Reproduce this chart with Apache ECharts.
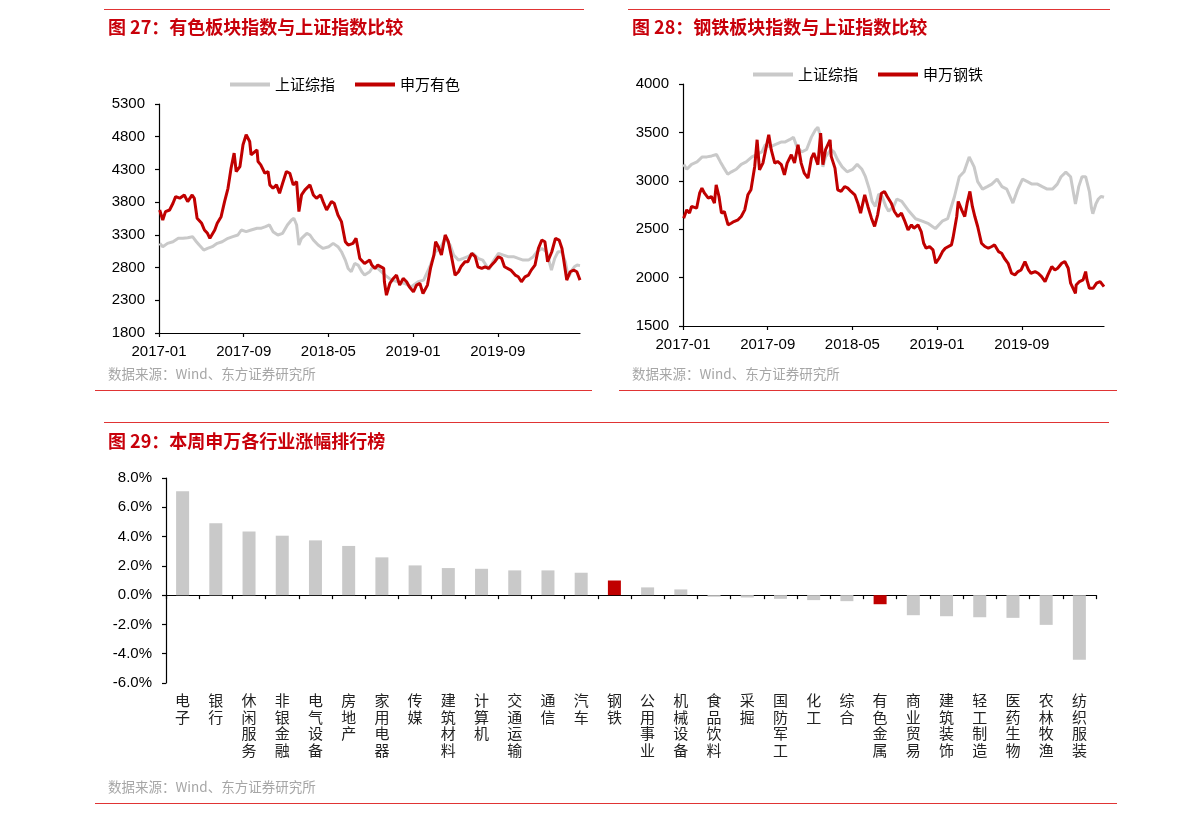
<!DOCTYPE html>
<html>
<head>
<meta charset="utf-8">
<script src="https://cdn.jsdelivr.net/npm/echarts@6/dist/echarts.min.js"></script>
<style>
  html, body { margin: 0; padding: 0; background: #fff; }
  #chart { width: 1191px; height: 817px; }
</style>
</head>
<body>
<div id="chart"></div>
<script>
// 上证综指 (shared by fig 27 and fig 28)
const shDates = ['2017-01-03','2017-01-12','2017-01-26','2017-02-10','2017-02-24','2017-03-09','2017-03-23','2017-04-06','2017-04-17','2017-04-25',
  '2017-05-08','2017-05-19','2017-06-02','2017-06-16','2017-06-30','2017-07-17','2017-07-31','2017-08-15','2017-08-25','2017-09-08',
  '2017-09-22','2017-10-09','2017-10-20','2017-11-03','2017-11-14','2017-11-24','2017-12-08','2017-12-22','2018-01-05','2018-01-17',
  '2018-01-24','2018-02-01','2018-02-07','2018-02-14','2018-02-28','2018-03-09','2018-03-19','2018-04-02','2018-04-16','2018-05-02',
  '2018-05-15','2018-05-29','2018-06-08','2018-06-19','2018-06-27','2018-07-06','2018-07-16','2018-07-26','2018-08-06','2018-08-14',
  '2018-08-29','2018-09-07','2018-09-21','2018-10-12','2018-10-31','2018-11-19','2018-12-07','2018-12-27','2019-01-16','2019-02-01',
  '2019-02-19','2019-03-04','2019-03-18','2019-04-02','2019-04-16','2019-04-26','2019-05-10','2019-05-24','2019-06-06','2019-06-21',
  '2019-07-05','2019-07-19','2019-08-06','2019-08-19','2019-09-03','2019-09-17','2019-09-30','2019-10-16','2019-10-30','2019-11-13',
  '2019-11-28','2019-12-12','2019-12-23','2020-01-06','2020-01-20','2020-02-03','2020-02-12','2020-02-21','2020-03-02','2020-03-06',
  '2020-03-13','2020-03-19','2020-03-23','2020-04-01','2020-04-08','2020-04-16','2020-04-24'];
const shValues = [3170,3119,3170,3195,3247,3247,3257,3272,3195,3144,
  3068,3093,3119,3170,3195,3247,3272,3298,3374,3349,
  3374,3400,3400,3425,3451,3349,3298,3323,3451,3527,
  3553,3451,3144,3247,3323,3298,3221,3144,3093,3119,
  3170,3119,3042,2914,2787,2736,2863,2838,2736,2685,
  2736,2812,2787,2685,2608,2583,2557,2506,2583,2608,
  2838,3042,3093,3247,3144,2991,2914,2940,2966,3017,
  2940,2914,2770,2900,3017,2991,2966,2966,2940,2914,
  2914,2966,3042,3090,3042,2760,2940,3042,3042,3060,
  2889,2720,2660,2761,2812,2838,2830];

// 申万有色
const ysDates = ['2017-01-03','2017-01-12','2017-01-20','2017-02-01','2017-02-10','2017-02-17','2017-02-28','2017-03-13','2017-03-23','2017-04-05',
  '2017-04-11','2017-04-19','2017-05-02','2017-05-10','2017-05-19','2017-05-26','2017-06-09','2017-06-16','2017-06-27','2017-07-07',
  '2017-07-17','2017-07-26','2017-08-04','2017-08-10','2017-08-21','2017-08-30','2017-09-08','2017-09-18','2017-09-22','2017-10-09',
  '2017-10-12','2017-10-20','2017-11-01','2017-11-10','2017-11-15','2017-11-24','2017-12-04','2017-12-13','2017-12-22','2018-01-02',
  '2018-01-12','2018-01-22','2018-02-01','2018-02-07','2018-02-14','2018-02-23','2018-03-09','2018-03-19','2018-03-28','2018-04-09',
  '2018-04-16','2018-04-26','2018-05-10','2018-05-18','2018-05-29','2018-06-08','2018-06-19','2018-06-27','2018-07-11','2018-07-20',
  '2018-07-31','2018-08-14','2018-08-29','2018-09-04','2018-09-13','2018-09-21','2018-10-08','2018-10-10','2018-10-16','2018-10-26',
  '2018-11-05','2018-11-14','2018-11-23','2018-12-03','2018-12-13','2018-12-21','2019-01-02','2019-01-11','2019-01-21','2019-01-30',
  '2019-02-11','2019-02-19','2019-02-28','2019-03-05','2019-03-13','2019-03-22','2019-04-02','2019-04-11','2019-04-19','2019-04-30',
  '2019-05-10','2019-05-17','2019-05-29','2019-06-06','2019-06-17','2019-06-27','2019-07-05','2019-07-16','2019-07-26','2019-08-05',
  '2019-08-14','2019-08-23','2019-09-03','2019-09-12','2019-09-20','2019-10-08','2019-10-11','2019-10-21','2019-10-30','2019-11-08',
  '2019-11-18','2019-11-28','2019-12-06','2019-12-17','2019-12-27','2020-01-06','2020-01-15','2020-01-23','2020-02-04','2020-02-14',
  '2020-02-24','2020-03-03','2020-03-06','2020-03-17','2020-03-27','2020-04-06','2020-04-15','2020-04-24'];
const ysValues = [3680,3527,3655,3680,3783,3885,3860,3910,3808,3910,
  3860,3553,3476,3374,3323,3247,3374,3476,3578,3808,
  4012,4319,4549,4268,4344,4677,4830,4727,4523,4600,
  4421,4370,4242,4268,4064,4012,4064,3936,4089,4268,
  4242,4064,4115,3655,3910,3987,4064,3910,3860,3910,
  3808,3680,3808,3783,3604,3502,3195,3144,3170,3247,
  2940,2863,2914,2838,2787,2838,2787,2583,2378,2557,
  2634,2685,2532,2634,2583,2506,2429,2532,2557,2404,
  2532,2787,2991,3195,3119,2991,3298,3195,2991,2685,
  2736,2812,2889,2889,3017,2966,2812,2787,2812,2787,
  2838,2889,2966,2940,2812,2761,2736,2685,2659,2583,
  2659,2685,2761,2838,3093,3221,3195,2889,3042,3247,
  3221,3093,2991,2608,2736,2761,2736,2608];

// 申万钢铁
const gtDates = ['2017-01-03','2017-01-12','2017-01-20','2017-01-26','2017-02-09','2017-02-17','2017-02-23','2017-03-02','2017-03-13','2017-03-22',
  '2017-03-31','2017-04-05','2017-04-13','2017-04-20','2017-04-28','2017-05-09','2017-05-18','2017-05-26','2017-06-07','2017-06-16',
  '2017-06-26','2017-07-05','2017-07-14','2017-07-25','2017-08-01','2017-08-08','2017-08-18','2017-08-28','2017-09-04','2017-09-11',
  '2017-09-21','2017-09-29','2017-10-10','2017-10-19','2017-10-27','2017-11-08','2017-11-17','2017-11-27','2017-12-06','2017-12-15',
  '2017-12-26','2018-01-05','2018-01-12','2018-01-24','2018-02-01','2018-02-07','2018-02-14','2018-02-26','2018-03-01','2018-03-12',
  '2018-03-20','2018-03-30','2018-04-09','2018-04-18','2018-04-27','2018-05-08','2018-05-17','2018-05-25','2018-06-06','2018-06-15',
  '2018-06-25','2018-07-04','2018-07-13','2018-07-24','2018-08-02','2018-08-10','2018-08-22','2018-08-31','2018-09-10','2018-09-20',
  '2018-09-28','2018-10-09','2018-10-19','2018-10-26','2018-11-07','2018-11-16','2018-11-23','2018-11-30','2018-12-10','2018-12-20',
  '2018-12-28','2019-01-07','2019-01-17','2019-01-25','2019-02-11','2019-02-15','2019-02-25','2019-03-01','2019-03-11','2019-03-20',
  '2019-03-27','2019-04-04','2019-04-11','2019-04-18','2019-04-26','2019-05-07','2019-05-17','2019-05-27','2019-06-06','2019-06-14',
  '2019-06-25','2019-07-04','2019-07-12','2019-07-23','2019-08-02','2019-08-12','2019-08-21','2019-08-30','2019-09-10','2019-09-20',
  '2019-09-27','2019-10-09','2019-10-18','2019-10-28','2019-11-07','2019-11-15','2019-11-26','2019-12-05','2019-12-13','2019-12-25',
  '2020-01-03','2020-01-13','2020-01-20','2020-02-03','2020-02-05','2020-02-14','2020-02-24','2020-03-02','2020-03-06','2020-03-13',
  '2020-03-24','2020-04-03','2020-04-13','2020-04-24'];
const gtValues = [2614,2700,2666,2735,2717,2872,2924,2872,2821,2838,
  2769,2959,2838,2666,2683,2545,2562,2579,2597,2631,
  2700,2855,2907,3148,3424,3114,3183,3355,3476,3321,
  3183,3200,3166,3062,3183,3269,3183,3373,3183,3079,
  3028,3235,3286,3166,3493,3166,3321,3424,3252,3131,
  2907,2890,2941,2924,2890,2855,2769,2666,2855,2735,
  2614,2528,2648,2872,2890,2838,2769,2683,2631,2666,
  2597,2493,2545,2510,2545,2476,2355,2303,2321,2286,
  2148,2200,2269,2303,2338,2407,2631,2786,2700,2631,
  2769,2890,2735,2631,2528,2355,2321,2303,2321,2338,
  2269,2252,2200,2148,2045,2028,2062,2079,2166,2079,
  2045,2062,2045,2010,1959,2028,2114,2079,2097,2148,
  2166,2097,1942,1838,1924,1959,1976,2062,1976,1890,
  1890,1942,1959,1907];

// 图 29
const industries = ['电子','银行','休闲服务','非银金融','电气设备','房地产','家用电器','传媒','建筑材料','计算机',
  '交通运输','通信','汽车','钢铁','公用事业','机械设备','食品饮料','采掘','国防军工','化工',
  '综合','有色金属','商业贸易','建筑装饰','轻工制造','医药生物','农林牧渔','纺织服装'];
const weeklyChange = [7.10,4.91,4.34,4.06,3.74,3.36,2.58,2.03,1.85,1.80,
  1.69,1.69,1.53,1.00,0.53,0.39,-0.11,-0.16,-0.25,-0.34,
  -0.41,-0.62,-1.37,-1.44,-1.51,-1.55,-2.03,-4.41];
const highlighted = ['钢铁','有色金属'];
const pctTicks = { min: -6, max: 8, step: 2 };

const RED = '#c00000', GREY = '#c9c9c9', RULE = '#e03434';
const NUM_FONT = '"Liberation Sans", "Noto Sans CJK SC", sans-serif';
const CJK_FONT = '"Noto Sans CJK SC", "Liberation Sans", sans-serif';

// x of the two line charts = months since 2017-01
const monthsOf = (s) => {
  const [y, m, d] = s.split('-').map(Number);
  const dim = new Date(y, m, 0).getDate();
  return (y - 2017) * 12 + (m - 1) + (d - 1) / dim;
};
const monthLabel = (v) => {
  const y = 2017 + Math.floor(Math.round(v) / 12);
  const m = Math.round(v) % 12 + 1;
  return y + '-' + (m < 10 ? '0' + m : m);
};
const pairs = (dates, vals) => dates.map((d, i) => [monthsOf(d), vals[i]]);
const endMonth = monthsOf('2020-04-24');

const axisLine = { show: true, lineStyle: { color: '#000', width: 1.2 } };
const axisTick = { show: true, inside: false, length: 4, lineStyle: { color: '#000', width: 1.2 } };
const numLabel = { color: '#000', fontSize: 15, fontFamily: NUM_FONT };

const timeX = (gridIndex) => ({
  type: 'value', gridIndex, min: 0, max: endMonth, interval: 8,
  axisLine, axisTick, splitLine: { show: false },
  axisLabel: Object.assign({ margin: 11, formatter: monthLabel, showMaxLabel: false }, numLabel),
});
const indexY = (gridIndex, min, max) => ({
  type: 'value', gridIndex, min, max, interval: 500,
  axisLine, axisTick, splitLine: { show: false },
  axisLabel: Object.assign({ margin: 14, formatter: (v) => String(v) }, numLabel),
});
const lineSeries = (name, data, color, idx) => ({
  name, type: 'line', xAxisIndex: idx, yAxisIndex: idx, data,
  showSymbol: false, symbol: 'none', lineStyle: { color, width: 3 }, itemStyle: { color },
  z: color === RED ? 3 : 2, silent: true,
});

const text = (x, y, str, style) => ({
  type: 'text', x, y, silent: true,
  style: Object.assign({ text: str, verticalAlign: 'middle', align: 'left' }, style),
});
const rule = (x1, x2, y) => ({
  type: 'line', silent: true, shape: { x1, y1: y, x2, y2: y },
  style: { stroke: RULE, lineWidth: 1.2 },
});
const titleStyle = { fill: '#c8000a', font: 'bold 18px ' + CJK_FONT };
const srcStyle = { fill: '#a6a6a6', font: '13.5px ' + CJK_FONT };

const gridBox = (left, top, width, height) => ({ left, top, width, height, containLabel: false, outerBoundsMode: 'none' });
const legendFor = (names, left, top) => ({
  data: names, left, top, icon: 'rect', itemWidth: 40, itemHeight: 4, itemGap: 20,
  textStyle: { fontSize: 15, color: '#000', fontFamily: CJK_FONT },
});

const chart = echarts.init(document.getElementById('chart'), null, { renderer: 'canvas' });
chart.setOption({
  animation: false,
  backgroundColor: '#fff',
  grid: [
    gridBox(159, 104, 421, 229),
    gridBox(683, 84, 421, 242),
    gridBox(166, 478, 930, 205),
  ],
  legend: [
    legendFor(['上证综指', '申万有色'], 225, 72),
    legendFor(['上证综指', '申万钢铁'], 748, 62),
  ],
  xAxis: [
    timeX(0),
    timeX(1),
    { type: 'category', gridIndex: 2, data: industries, boundaryGap: true,
      axisLine: Object.assign({ onZero: true }, axisLine),
      axisTick: Object.assign({ alignWithLabel: false, interval: 0 }, axisTick),
      axisLabel: { interval: 0, margin: 9, color: '#222', fontSize: 15, lineHeight: 16.7, fontFamily: CJK_FONT,
        formatter: (v) => v.split('').join('\n') } },
  ],
  yAxis: [
    indexY(0, 1800, 5300),
    indexY(1, 1500, 4000),
    { type: 'value', gridIndex: 2, min: pctTicks.min, max: pctTicks.max, interval: pctTicks.step,
      axisLine, axisTick, splitLine: { show: false },
      axisLabel: Object.assign({ margin: 14, formatter: (v) => v.toFixed(1) + '%' }, numLabel) },
  ],
  series: [
    lineSeries('上证综指', pairs(shDates, shValues), GREY, 0),
    lineSeries('申万有色', pairs(ysDates, ysValues), RED, 0),
    lineSeries('上证综指', pairs(shDates, shValues), GREY, 1),
    lineSeries('申万钢铁', pairs(gtDates, gtValues), RED, 1),
    { name: '涨幅', type: 'bar', xAxisIndex: 2, yAxisIndex: 2, barWidth: 13, silent: true,
      data: weeklyChange.map((v, i) => ({
        value: v, itemStyle: { color: highlighted.includes(industries[i]) ? RED : GREY },
      })) },
  ],
  graphic: [
    rule(104, 584, 9.5), rule(628, 1110, 9.5),
    rule(95, 592, 390.5), rule(619, 1117, 390.5),
    rule(104, 1109, 422.5), rule(95, 1117, 803.5),
    text(108, 27, '图 27：有色板块指数与上证指数比较', titleStyle),
    text(632, 27, '图 28：钢铁板块指数与上证指数比较', titleStyle),
    text(108, 441, '图 29：本周申万各行业涨幅排行榜', titleStyle),
    text(108, 374, '数据来源：Wind、东方证券研究所', srcStyle),
    text(632, 374, '数据来源：Wind、东方证券研究所', srcStyle),
    text(108, 787, '数据来源：Wind、东方证券研究所', srcStyle),
  ],
});
</script>
</body>
</html>
